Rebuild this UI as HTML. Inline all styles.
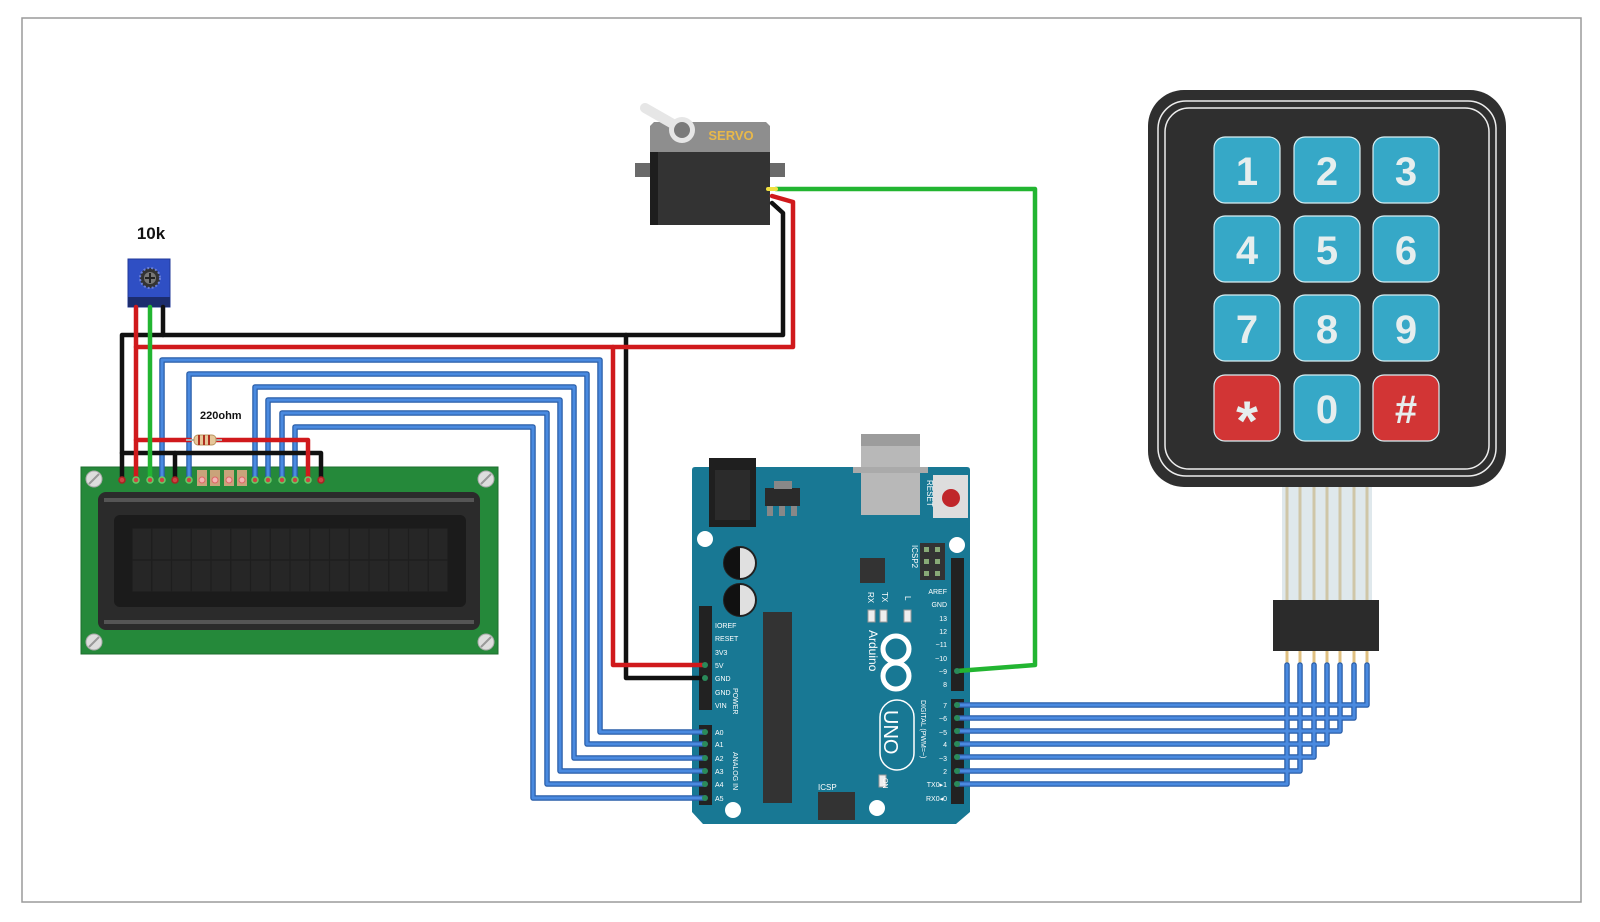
<!DOCTYPE html>
<html><head><meta charset="utf-8"><style>
html,body{margin:0;padding:0;background:#fff;width:1600px;height:922px;overflow:hidden}
svg{display:block}
text{font-family:"Liberation Sans",sans-serif}
</style></head><body>
<svg width="1600" height="922" viewBox="0 0 1600 922" xmlns="http://www.w3.org/2000/svg">
<rect x="22" y="18" width="1559" height="884" fill="#fff" stroke="#9a9a9a" stroke-width="1.5"/>

<!-- LCD -->
<rect x="81" y="467" width="417" height="187" fill="#25893a" stroke="#1d6e2e"/>
<rect x="98" y="492" width="382" height="138" rx="8" fill="#2b2b2b"/>
<rect x="104" y="498" width="370" height="4" fill="#555"/>
<rect x="104" y="620" width="370" height="4" fill="#555"/>
<rect x="114" y="515" width="352" height="92" rx="6" fill="#1b1b1b"/>
<g fill="#262626" stroke="#1b1b1b" stroke-width="1">
<rect x="132" y="528" width="316" height="32"/><rect x="132" y="560" width="316" height="32"/>
</g>
<g stroke="#1e1e1e" stroke-width="1.2">
<line x1="151.75" y1="528" x2="151.75" y2="592"/><line x1="171.5" y1="528" x2="171.5" y2="592"/><line x1="191.25" y1="528" x2="191.25" y2="592"/><line x1="211" y1="528" x2="211" y2="592"/><line x1="230.75" y1="528" x2="230.75" y2="592"/><line x1="250.5" y1="528" x2="250.5" y2="592"/><line x1="270.25" y1="528" x2="270.25" y2="592"/><line x1="290" y1="528" x2="290" y2="592"/><line x1="309.75" y1="528" x2="309.75" y2="592"/><line x1="329.5" y1="528" x2="329.5" y2="592"/><line x1="349.25" y1="528" x2="349.25" y2="592"/><line x1="369" y1="528" x2="369" y2="592"/><line x1="388.75" y1="528" x2="388.75" y2="592"/><line x1="408.5" y1="528" x2="408.5" y2="592"/><line x1="428.25" y1="528" x2="428.25" y2="592"/>
</g>
<g fill="#ddd" stroke="#aaa"><circle cx="94" cy="479" r="8"/><circle cx="486" cy="479" r="8"/><circle cx="94" cy="642" r="8"/><circle cx="486" cy="642" r="8"/></g>
<g stroke="#999" stroke-width="2"><line x1="89" y1="484" x2="99" y2="474"/><line x1="481" y1="484" x2="491" y2="474"/><line x1="89" y1="647" x2="99" y2="637"/><line x1="481" y1="647" x2="491" y2="637"/></g>
<g fill="#c9a37a"><rect x="197" y="470" width="10" height="16"/><rect x="210" y="470" width="10" height="16"/><rect x="224" y="470" width="10" height="16"/><rect x="237" y="470" width="10" height="16"/></g>
<g fill="#f3b3b3" stroke="#d66"><circle cx="202" cy="480" r="3"/><circle cx="215" cy="480" r="3"/><circle cx="229" cy="480" r="3"/><circle cx="242" cy="480" r="3"/></g>

<!-- Pot -->
<text x="151" y="239" font-size="17" font-weight="bold" text-anchor="middle" fill="#111">10k</text>
<rect x="128" y="259" width="42" height="48" fill="#2f4fc4" stroke="#22399a"/>
<rect x="128" y="297" width="42" height="10" fill="#1c2d6e"/>
<circle cx="150" cy="278" r="10" fill="#333" stroke="#6a7fd8" stroke-width="2" stroke-dasharray="2 2"/>
<circle cx="150" cy="278" r="6" fill="#777"/>
<line x1="145" y1="278" x2="155" y2="278" stroke="#222" stroke-width="2"/><line x1="150" y1="273" x2="150" y2="283" stroke="#222" stroke-width="2"/>

<!-- Servo -->
<rect x="635" y="163" width="150" height="14" fill="#6a6a6a"/>
<rect x="650" y="150" width="120" height="75" fill="#333"/>
<rect x="650" y="150" width="8" height="75" fill="#1e1e1e"/>
<path d="M654 122 H766 L770 126 V152 H650 V126 Z" fill="#8e8e8e"/>
<path d="M645 108 L680 128" stroke="#e6e6e6" stroke-width="10" stroke-linecap="round"/>
<circle cx="682" cy="130" r="13" fill="#e6e6e6"/><circle cx="682" cy="130" r="8" fill="#7a7a7a"/>
<text x="731" y="140" font-size="13" font-weight="bold" fill="#e8b84a" text-anchor="middle">SERVO</text>

<!-- Arduino -->
<path d="M692 470 Q692 467 695 467 H967 Q970 467 970 470 V812 L956 824 H703 L692 812 Z" fill="#187894"/>
<rect x="861" y="434" width="59" height="81" fill="#b8b8b8"/><rect x="861" y="434" width="59" height="12" fill="#9c9c9c"/>
<rect x="853" y="467" width="75" height="6" fill="#aaa"/>
<rect x="709" y="458" width="47" height="69" fill="#1f1f1f"/><rect x="715" y="470" width="35" height="50" fill="#2b2b2b"/>
<rect x="765" y="488" width="35" height="18" fill="#2a2a2a"/><rect x="774" y="481" width="18" height="8" fill="#888"/>
<g fill="#888"><rect x="767" y="506" width="6" height="10"/><rect x="779" y="506" width="6" height="10"/><rect x="791" y="506" width="6" height="10"/></g>
<rect x="933" y="475" width="35" height="43" fill="#ddd"/><circle cx="951" cy="498" r="9" fill="#c0262a"/>
<text transform="translate(927,480) rotate(90)" font-size="8" fill="#fff">RESET</text>
<g fill="#fff"><circle cx="705" cy="539" r="8"/><circle cx="957" cy="545" r="8"/><circle cx="733" cy="810" r="8"/><circle cx="877" cy="808" r="8"/></g>
<g><circle cx="740" cy="563" r="16" fill="#e0e0e0" stroke="#222" stroke-width="2"/><path d="M740 547 A16 16 0 0 0 740 579 Z" fill="#111"/>
<circle cx="740" cy="600" r="16" fill="#e0e0e0" stroke="#222" stroke-width="2"/><path d="M740 584 A16 16 0 0 0 740 616 Z" fill="#111"/></g>
<rect x="763" y="612" width="29" height="191" fill="#333"/>
<rect x="860" y="558" width="25" height="25" fill="#333"/>
<rect x="920" y="543" width="25" height="37" fill="#333"/>
<g fill="#8a7" ><rect x="924" y="547" width="5" height="5"/><rect x="935" y="547" width="5" height="5"/><rect x="924" y="559" width="5" height="5"/><rect x="935" y="559" width="5" height="5"/><rect x="924" y="571" width="5" height="5"/><rect x="935" y="571" width="5" height="5"/></g>
<text transform="translate(912,545) rotate(90)" font-size="8" fill="#fff">ICSP2</text>
<rect x="818" y="792" width="37" height="28" fill="#333"/>
<text x="818" y="790" font-size="8" fill="#fff">ICSP</text>
<g fill="#eee" stroke="#999"><rect x="868" y="610" width="7" height="12"/><rect x="880" y="610" width="7" height="12"/><rect x="904" y="610" width="7" height="12"/><rect x="879" y="775" width="7" height="12"/></g>
<text transform="translate(868,592) rotate(90)" font-size="8" fill="#fff">RX</text>
<text transform="translate(882,592) rotate(90)" font-size="8" fill="#fff">TX</text>
<text transform="translate(905,596) rotate(90)" font-size="8" fill="#fff">L</text>
<text transform="translate(869,630) rotate(90)" font-size="12" fill="#fff">Arduino</text>
<circle cx="896" cy="649" r="13" fill="none" stroke="#fff" stroke-width="5"/><circle cx="896" cy="676" r="13" fill="none" stroke="#fff" stroke-width="5"/>
<rect x="880" y="700" width="34" height="70" rx="17" fill="none" stroke="#fff" stroke-width="1.5"/>
<text transform="translate(884,710) rotate(90)" font-size="20" fill="#fff">UNO</text>
<text transform="translate(921,700) rotate(90)" font-size="7" fill="#fff">DIGITAL (PWM=~)</text>
<text transform="translate(733,688) rotate(90)" font-size="7" fill="#fff">POWER</text>
<text transform="translate(733,752) rotate(90)" font-size="7" fill="#fff">ANALOG IN</text>
<text transform="translate(883,778) rotate(90)" font-size="7" fill="#fff">ON</text>
<!-- headers -->
<rect x="699" y="606" width="13" height="104" fill="#222"/>
<rect x="699" y="725" width="13" height="80" fill="#222"/>
<rect x="951" y="558" width="13" height="133" fill="#222"/>
<rect x="951" y="699" width="13" height="105" fill="#222"/>
<g font-size="7" fill="#fff">
<text x="715" y="628">IOREF</text><text x="715" y="641">RESET</text><text x="715" y="655">3V3</text><text x="715" y="668">5V</text><text x="715" y="681">GND</text><text x="715" y="695">GND</text><text x="715" y="708">VIN</text>
<text x="715" y="735">A0</text><text x="715" y="747">A1</text><text x="715" y="761">A2</text><text x="715" y="774">A3</text><text x="715" y="787">A4</text><text x="715" y="801">A5</text>
<g text-anchor="end"><text x="947" y="594">AREF</text><text x="947" y="607">GND</text><text x="947" y="621">13</text><text x="947" y="634">12</text><text x="947" y="647">~11</text><text x="947" y="661">~10</text><text x="947" y="674">~9</text><text x="947" y="687">8</text>
<text x="947" y="708">7</text><text x="947" y="721">~6</text><text x="947" y="735">~5</text><text x="947" y="747">4</text><text x="947" y="761">~3</text><text x="947" y="774">2</text><text x="947" y="787">TX0▸1</text><text x="947" y="801">RX0◂0</text></g>
</g>

<!-- Keypad -->
<rect x="1148" y="90" width="358" height="397" rx="36" fill="#2f2f2f"/>
<rect x="1158" y="101" width="338" height="375" rx="28" fill="none" stroke="#eee" stroke-width="1.5"/>
<rect x="1165" y="108" width="324" height="361" rx="24" fill="none" stroke="#eee" stroke-width="1.5"/>
<g stroke="#d8eef2" stroke-width="1.2">
<rect x="1214" y="137" width="66" height="66" rx="11" fill="#36a8c7"/><rect x="1294" y="137" width="66" height="66" rx="11" fill="#36a8c7"/><rect x="1373" y="137" width="66" height="66" rx="11" fill="#36a8c7"/>
<rect x="1214" y="216" width="66" height="66" rx="11" fill="#36a8c7"/><rect x="1294" y="216" width="66" height="66" rx="11" fill="#36a8c7"/><rect x="1373" y="216" width="66" height="66" rx="11" fill="#36a8c7"/>
<rect x="1214" y="295" width="66" height="66" rx="11" fill="#36a8c7"/><rect x="1294" y="295" width="66" height="66" rx="11" fill="#36a8c7"/><rect x="1373" y="295" width="66" height="66" rx="11" fill="#36a8c7"/>
<rect x="1214" y="375" width="66" height="66" rx="11" fill="#d23535"/><rect x="1294" y="375" width="66" height="66" rx="11" fill="#36a8c7"/><rect x="1373" y="375" width="66" height="66" rx="11" fill="#d23535"/>
</g>
<g font-size="40" font-weight="bold" fill="#e6eeee" text-anchor="middle" font-family="Liberation Sans,sans-serif">
<text x="1247" y="185">1</text><text x="1327" y="185">2</text><text x="1406" y="185">3</text>
<text x="1247" y="264">4</text><text x="1327" y="264">5</text><text x="1406" y="264">6</text>
<text x="1247" y="343">7</text><text x="1327" y="343">8</text><text x="1406" y="343">9</text>
<text x="1247" y="440" font-size="56">*</text><text x="1327" y="423">0</text><text x="1406" y="423">#</text>
</g>
<rect x="1282" y="487" width="90" height="113" fill="#dfe8ec"/>
<g stroke="#cfc6a8" stroke-width="3"><line x1="1287" y1="487" x2="1287" y2="600"/><line x1="1300" y1="487" x2="1300" y2="600"/><line x1="1314" y1="487" x2="1314" y2="600"/><line x1="1327" y1="487" x2="1327" y2="600"/><line x1="1340" y1="487" x2="1340" y2="600"/><line x1="1354" y1="487" x2="1354" y2="600"/><line x1="1367" y1="487" x2="1367" y2="600"/></g>
<rect x="1273" y="600" width="106" height="51" fill="#2b2b2b"/>
<g stroke="#e0c080" stroke-width="3"><line x1="1287" y1="651" x2="1287" y2="664"/><line x1="1300" y1="651" x2="1300" y2="664"/><line x1="1314" y1="651" x2="1314" y2="664"/><line x1="1327" y1="651" x2="1327" y2="664"/><line x1="1340" y1="651" x2="1340" y2="664"/><line x1="1354" y1="651" x2="1354" y2="664"/><line x1="1367" y1="651" x2="1367" y2="664"/></g>

<!-- Wires -->
<g fill="none" stroke-linejoin="round" stroke-linecap="round">
<g stroke="#2a5ea8" stroke-width="5.5">
<polyline points="162,480 162,360 600,360 600,732 705,732"/>
<polyline points="189,480 189,374 587,374 587,744 705,744"/>
<polyline points="255,480 255,387 574,387 574,758 705,758"/>
<polyline points="268,480 268,400 560,400 560,771 705,771"/>
<polyline points="282,480 282,413 547,413 547,784 705,784"/>
<polyline points="295,480 295,427 533,427 533,798 705,798"/>
<polyline points="1367,665 1367,705 957,705"/>
<polyline points="1354,665 1354,718 957,718"/>
<polyline points="1340,665 1340,731 957,731"/>
<polyline points="1327,665 1327,744 957,744"/>
<polyline points="1314,665 1314,757 957,757"/>
<polyline points="1300,665 1300,771 957,771"/>
<polyline points="1287,665 1287,784 957,784"/>
</g>
<g stroke="#4a8ae0" stroke-width="3">
<polyline points="162,480 162,360 600,360 600,732 705,732"/>
<polyline points="189,480 189,374 587,374 587,744 705,744"/>
<polyline points="255,480 255,387 574,387 574,758 705,758"/>
<polyline points="268,480 268,400 560,400 560,771 705,771"/>
<polyline points="282,480 282,413 547,413 547,784 705,784"/>
<polyline points="295,480 295,427 533,427 533,798 705,798"/>
<polyline points="1367,665 1367,705 957,705"/>
<polyline points="1354,665 1354,718 957,718"/>
<polyline points="1340,665 1340,731 957,731"/>
<polyline points="1327,665 1327,744 957,744"/>
<polyline points="1314,665 1314,757 957,757"/>
<polyline points="1300,665 1300,771 957,771"/>
<polyline points="1287,665 1287,784 957,784"/>
</g>
<g stroke="#111" stroke-width="4.5">
<polyline points="163,307 163,335"/>
<polyline points="122,480 122,335 783,335 783,213 772,203"/>
<polyline points="626,335 626,678 705,678"/>
<polyline points="175,480 175,453"/>
<polyline points="122,453 321,453 321,480"/>
</g>
<g stroke="#d0191c" stroke-width="4.5">
<polyline points="136,307 136,480"/>
<polyline points="136,347 793,347 793,202 772,196"/>
<polyline points="613,347 613,665 705,665"/>
<polyline points="136,440 190,440"/>
<polyline points="216,440 308,440 308,480"/>
</g>
<g stroke="#22b531" stroke-width="4.5">
<polyline points="150,307 150,480"/>
<polyline points="776,189 1035,189 1035,665 957,671"/>
</g>
<line x1="768" y1="189" x2="776" y2="189" stroke="#f0e040" stroke-width="4"/>
</g>
<!-- resistor -->
<line x1="186" y1="440" x2="222" y2="440" stroke="#aaa" stroke-width="2"/>
<rect x="194" y="435" width="22" height="10" rx="4" fill="#e6c79a" stroke="#b89460"/>
<g stroke="#b03020" stroke-width="2"><line x1="199" y1="435" x2="199" y2="445"/><line x1="204" y1="435" x2="204" y2="445"/><line x1="209" y1="435" x2="209" y2="445"/></g>
<text x="200" y="419" font-size="11" font-weight="bold" fill="#111">220ohm</text>
<!-- pin ends -->
<g stroke-width="1.5" fill="#c44">
<circle cx="122" cy="480" r="3" stroke="#a22"/><circle cx="136" cy="480" r="3" stroke="#6c6"/><circle cx="150" cy="480" r="3" stroke="#6c6"/><circle cx="162" cy="480" r="3" stroke="#6c6"/><circle cx="175" cy="480" r="3" stroke="#a22"/><circle cx="189" cy="480" r="3" stroke="#6c6"/><circle cx="255" cy="480" r="3" stroke="#6c6"/><circle cx="268" cy="480" r="3" stroke="#6c6"/><circle cx="282" cy="480" r="3" stroke="#6c6"/><circle cx="295" cy="480" r="3" stroke="#6c6"/><circle cx="308" cy="480" r="3" stroke="#6c6"/><circle cx="321" cy="480" r="3" stroke="#a22"/>
</g>
<g fill="#2a8a5a"><circle cx="705" cy="665" r="3"/><circle cx="705" cy="678" r="3"/><circle cx="705" cy="732" r="3"/><circle cx="705" cy="744" r="3"/><circle cx="705" cy="758" r="3"/><circle cx="705" cy="771" r="3"/><circle cx="705" cy="784" r="3"/><circle cx="705" cy="798" r="3"/>
<circle cx="957" cy="671" r="3"/><circle cx="957" cy="705" r="3"/><circle cx="957" cy="718" r="3"/><circle cx="957" cy="731" r="3"/><circle cx="957" cy="744" r="3"/><circle cx="957" cy="757" r="3"/><circle cx="957" cy="771" r="3"/><circle cx="957" cy="784" r="3"/></g>
</svg>
</body></html>
